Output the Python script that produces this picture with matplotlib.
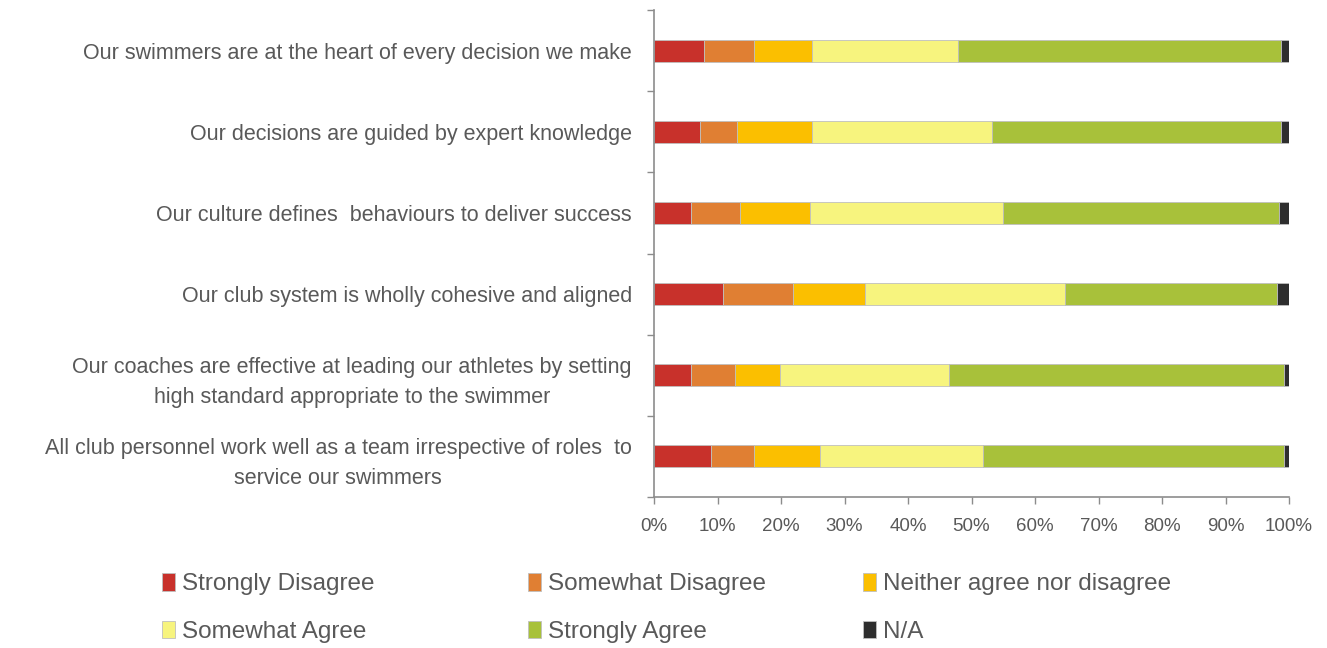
import matplotlib.pyplot as plt
from matplotlib.patches import Patch
from matplotlib.ticker import PercentFormatter

plt.rcParams["font.family"] = ["Liberation Sans", "DejaVu Sans"]

STATEMENTS = [
    "Our swimmers are at the heart of every decision we make",
    "Our decisions are guided by expert knowledge",
    "Our culture defines  behaviours to deliver success",
    "Our club system is wholly cohesive and aligned",
    "Our coaches are effective at leading our athletes by setting\nhigh standard appropriate to the swimmer",
    "All club personnel work well as a team irrespective of roles  to\nservice our swimmers",
]
CATEGORIES = ["Strongly Disagree", "Somewhat Disagree", "Neither agree nor disagree",
              "Somewhat Agree", "Strongly Agree", "N/A"]
COLORS = ["#C8312B", "#E07F33", "#FBBF00", "#F7F47E", "#A8C13A", "#2E2E2E"]

# share of responses (%) per statement, one list per category
strongly_disagree = [7.8, 7.3, 5.9, 10.8, 5.9, 8.9]
somewhat_disagree = [8.0, 5.8, 7.6, 11.1, 6.8, 6.9]
neither = [9.1, 11.8, 11.1, 11.4, 7.2, 10.3]
somewhat_agree = [23.0, 28.4, 30.3, 31.4, 26.5, 25.7]
strongly_agree = [50.9, 45.5, 43.6, 33.4, 52.8, 47.4]
not_applicable = [1.2, 1.2, 1.5, 1.9, 0.8, 0.8]
SERIES = [strongly_disagree, somewhat_disagree, neither,
          somewhat_agree, strongly_agree, not_applicable]

GREY = "#595959"
AXIS_GREY = "#8C8C8C"

fig = plt.figure(figsize=(13.27, 6.48), dpi=100)
ax = fig.add_axes([654 / 1327, 1 - 497 / 648, 635 / 1327, 487 / 648])

y = list(range(len(STATEMENTS)))
left = [0.0] * len(STATEMENTS)
for vals, color in zip(SERIES, COLORS):
    ax.barh(y, vals, left=left, height=0.27, color=color,
            edgecolor="#BFBFBF", linewidth=0.6)
    left = [l + v for l, v in zip(left, vals)]

ax.set_xlim(0, 100)
ax.set_ylim(len(STATEMENTS) - 0.5, -0.5)
ax.set_xticks(range(0, 101, 10))
ax.xaxis.set_major_formatter(PercentFormatter(decimals=0))
ax.set_yticks(y)
ax.set_yticklabels(STATEMENTS, multialignment="center", linespacing=1.55)
ax.set_yticks([i - 0.5 for i in range(len(STATEMENTS) + 1)], minor=True)

ax.tick_params(axis="y", which="major", length=0, pad=16, labelsize=15.5, labelcolor=GREY)
ax.tick_params(axis="y", which="minor", length=5, color=AXIS_GREY, width=1)
ax.tick_params(axis="x", length=5, color=AXIS_GREY, width=1, labelsize=13.5,
               labelcolor=GREY, pad=10)
for side in ("top", "right"):
    ax.spines[side].set_visible(False)
for side in ("left", "bottom"):
    ax.spines[side].set_color(AXIS_GREY)
    ax.spines[side].set_linewidth(1.2)

# legend: three columns, two rows
handles = [Patch(facecolor=c, edgecolor="#BFBFBF", linewidth=0.6) for c in COLORS]
col_x = [152 / 1327, 518 / 1327, 853 / 1327]
for i, x in enumerate(col_x):
    leg = fig.legend([handles[i], handles[i + 3]], [CATEGORIES[i], CATEGORIES[i + 3]],
                     loc="upper left", bbox_to_anchor=(x, 1 - 563 / 648),
                     frameon=False, fontsize=17.5, handlelength=0.55, handleheight=0.75,
                     handletextpad=0.3, labelspacing=1.05, borderaxespad=0)
    for t in leg.get_texts():
        t.set_color(GREY)

fig.savefig("out.png", dpi=100)
